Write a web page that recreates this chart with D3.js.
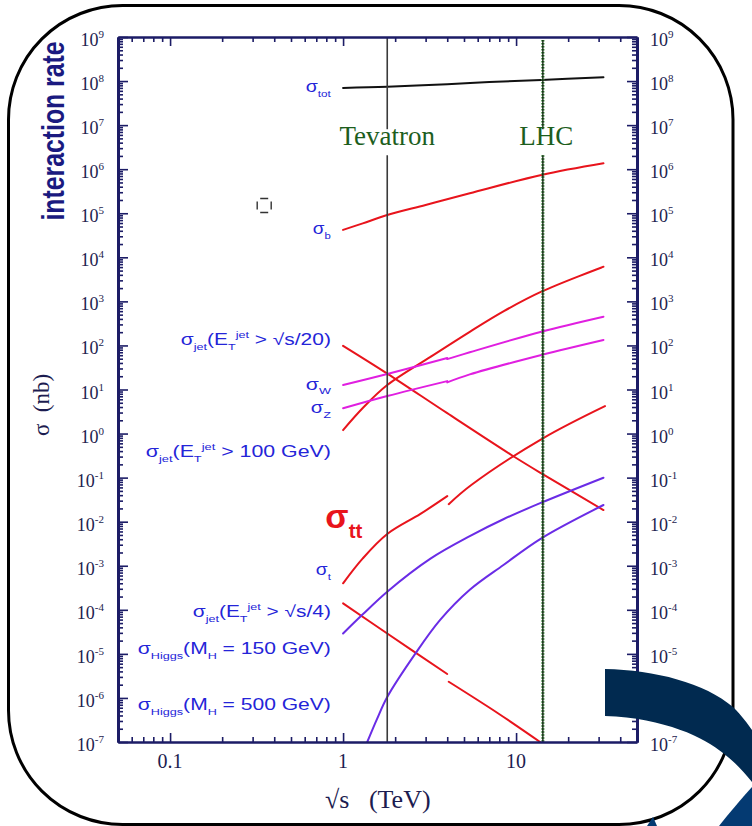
<!DOCTYPE html>
<html>
<head>
<meta charset="utf-8">
<script src="https://cdn.jsdelivr.net/npm/d3@7"></script>
<style>
  html, body { margin: 0; padding: 0; background: #fff; }
  svg { display: block; }
</style>
</head>
<body>
<svg id="chart" width="752" height="826"></svg>
<script>
// Cross sections σ (nb) versus collision energy √s (TeV).
// Below 4 TeV the curves are for p-pbar, above 4 TeV for p-p.
const sigmaTot       = [[1, 7.0e7], [1.8, 7.4e7], [4, 8.5e7], [7, 9.5e7], [14, 1.06e8], [32, 1.22e8]];
const sigmaB         = [[1, 4.2e4], [1.3, 5.9e4], [1.8, 9.1e4], [3, 1.54e5], [5.4, 2.84e5], [14, 7.4e5], [32, 1.36e6]];
const sigmaJet20     = [[1, 98], [1.8, 23], [4, 2.9], [9.6, 0.31], [14, 0.125], [32, 0.0184]];
const sigmaJet100    = [[1, 1.2], [1.3, 3.8], [1.8, 12.6], [3.2, 55], [5.4, 204], [8.5, 600], [14, 1660], [32, 6120]];
const sigmaW_ppbar   = [[1, 12.6], [1.8, 22.4], [4, 52]];
const sigmaW_pp      = [[4, 49], [5.4, 70], [14, 205], [32, 449]];
const sigmaZ_ppbar   = [[1, 3.74], [1.8, 7.1], [4, 15.5]];
const sigmaZ_pp      = [[4, 14.5], [5.4, 22], [14, 60.7], [32, 133]];
const sigmaTop_ppbar = [[1, 4.0e-4], [1.3, 1.47e-3], [1.8, 5.25e-3], [2.8, 0.015], [4, 0.038]];
const sigmaTop_pp    = [[4, 0.025], [5.4, 0.068], [14, 0.78], [32, 4.2]];
const sigmaJet4_ppbar = [[1, 1.4e-4], [1.8, 2.9e-5], [4, 3.5e-6]];
const sigmaJet4_pp    = [[4, 2.33e-6], [7.7, 4.5e-7], [13.5, 1.0e-7]];
const sigmaHiggs150  = [[1, 2.9e-5], [1.3, 7.9e-5], [1.8, 2.58e-4], [3.2, 1.45e-3], [5.4, 4.7e-3], [8.5, 0.0115], [14, 0.027], [32, 0.0995]];
const sigmaHiggs500  = [[1.38, 1e-7], [1.57, 3.3e-7], [1.8, 1.05e-6], [2.61, 1.0e-5], [3.64, 5.9e-5], [5.4, 2.85e-4], [8.45, 1.04e-3], [14, 4.19e-3], [32, 0.0239]];

// Collider energies (TeV)
const colliderNames  = ["Tevatron", "LHC"];
const colliderEnergy = [1.8, 14];

// Axis ticks
const yExponents   = d3.range(-7, 10);
const xTickValues  = [0.1, 1, 10];
const xTickLabels  = ["0.1", "1", "10"];

const RED = "#e8141c", MAGENTA = "#e01fe0", PURPLE = "#6a2ce6", BLACK = "#111", BLUE = "#2424d8";
const NAVY = "#1c1c66";

const svg = d3.select("#chart");
const x = d3.scaleLog().domain([0.05, 50]).range([118, 637]);
const y = d3.scaleLog().domain([1e-7, 1e9]).range([742, 37]);

// Rounded outer frame
svg.append("rect")
  .attr("x", 8.5).attr("y", 5.5).attr("width", 724.5).attr("height", 819)
  .attr("rx", 114).attr("ry", 114)
  .attr("fill", "#fff").attr("stroke", "#000").attr("stroke-width", 3);

// Clip curves to the plotting area
svg.append("clipPath").attr("id", "plotClip")
  .append("rect")
  .attr("x", x.range()[0]).attr("y", y.range()[1])
  .attr("width", x.range()[1] - x.range()[0])
  .attr("height", y.range()[0] - y.range()[1]);

const line = d3.line()
  .x(d => x(d[0]))
  .y(d => y(d[1]))
  .curve(d3.curveCatmullRom.alpha(0.5));

const curves = [
  { data: sigmaTot, color: BLACK },
  { data: sigmaB, color: RED },
  { data: sigmaJet20, color: RED },
  { data: sigmaJet100, color: RED },
  { data: sigmaW_ppbar, color: MAGENTA },
  { data: sigmaW_pp, color: MAGENTA },
  { data: sigmaZ_ppbar, color: MAGENTA },
  { data: sigmaZ_pp, color: MAGENTA },
  { data: sigmaTop_ppbar, color: RED },
  { data: sigmaTop_pp, color: RED, gap: true },
  { data: sigmaJet4_ppbar, color: RED },
  { data: sigmaJet4_pp, color: RED, gap: true },
  { data: sigmaHiggs150, color: PURPLE },
  { data: sigmaHiggs500, color: PURPLE }
];

const curveG = svg.append("g").attr("clip-path", "url(#plotClip)");
curveG.selectAll("path")
  .data(curves)
  .join("path")
  .attr("d", c => line(c.data))
  .attr("fill", "none")
  .attr("stroke", c => c.color)
  .attr("stroke-width", 2)
  .attr("stroke-linecap", "round")
  // p-p pieces that start after a visible break at the changeover
  .attr("transform", c => c.gap ? "translate(1.5,0)" : null);

// Collider lines and labels
const labelBase = y(3.5e6);
const collG = svg.append("g");
colliderEnergy.forEach((e, i) => {
  const xp = x(e);
  const segs = [[y.range()[1] + (i ? 3 : 0), labelBase - 16], [labelBase + 10, y.range()[0]]];
  segs.forEach(([a, b]) => {
    if (i === 0) {
      collG.append("line")
        .attr("x1", xp).attr("x2", xp).attr("y1", a).attr("y2", b)
        .attr("stroke", "#3a3a3a").attr("stroke-width", 1.6);
    } else {
      collG.append("line")
        .attr("x1", xp + 1.5).attr("x2", xp + 1.5).attr("y1", a).attr("y2", b)
        .attr("stroke", "#3c8a3c").attr("stroke-width", 3.2)
        .attr("stroke-dasharray", "1.5,1.5");
      collG.append("line")
        .attr("x1", xp + 1.5).attr("x2", xp + 1.5).attr("y1", a).attr("y2", b)
        .attr("stroke", "#0c200c").attr("stroke-width", 1.3);
    }
  });
  collG.append("text")
    .attr("x", xp + (i ? 5 : 0)).attr("y", labelBase)
    .attr("text-anchor", "middle")
    .attr("font-family", "'Liberation Serif', 'Times New Roman', serif")
    .attr("font-size", 27)
    .attr("fill", "#1d5e1d")
    .text(colliderNames[i]);
});

// Axes: ticks pointing inward on all four sides
const yMajor = yExponents.map(e => Math.pow(10, e));
const yMinor = [];
yExponents.slice(0, -1).forEach(e => { for (let m = 2; m <= 9; m++) yMinor.push(m * Math.pow(10, e)); });
const xMinor = [];
[0.01, 0.1, 1, 10].forEach(d => { for (let m = 2; m <= 9; m++) { const v = m * d; if (v > 0.05 && v < 50) xMinor.push(+v.toPrecision(3)); } });

function styleAxis(g, w) {
  g.select(".domain").attr("stroke", NAVY).attr("stroke-width", w);
  g.selectAll(".tick line").attr("stroke", NAVY).attr("stroke-width", 1.6);
  g.selectAll(".tick text").remove();
}
const [x0, x1] = x.range();
const [yb, yt] = y.range();

svg.append("g").attr("transform", `translate(${x0},0)`)
  .call(d3.axisLeft(y).tickValues(yMajor).tickSize(-10).tickSizeOuter(0).tickFormat(""))
  .call(g => styleAxis(g, 3));
svg.append("g").attr("transform", `translate(${x0},0)`)
  .call(d3.axisLeft(y).tickValues(yMinor).tickSize(-5).tickSizeOuter(0).tickFormat(""))
  .call(g => styleAxis(g, 3));
svg.append("g").attr("transform", `translate(${x1},0)`)
  .call(d3.axisRight(y).tickValues(yMajor).tickSize(-10).tickSizeOuter(0).tickFormat(""))
  .call(g => styleAxis(g, 3));
svg.append("g").attr("transform", `translate(${x1},0)`)
  .call(d3.axisRight(y).tickValues(yMinor).tickSize(-5).tickSizeOuter(0).tickFormat(""))
  .call(g => styleAxis(g, 3));
svg.append("g").attr("transform", `translate(0,${yb})`)
  .call(d3.axisBottom(x).tickValues(xTickValues).tickSize(-9).tickSizeOuter(0).tickFormat(""))
  .call(g => styleAxis(g, 2.2));
svg.append("g").attr("transform", `translate(0,${yb})`)
  .call(d3.axisBottom(x).tickValues(xMinor).tickSize(-5).tickSizeOuter(0).tickFormat(""))
  .call(g => styleAxis(g, 2.2));
svg.append("g").attr("transform", `translate(0,${yt})`)
  .call(d3.axisTop(x).tickValues(xTickValues).tickSize(-9).tickSizeOuter(0).tickFormat(""))
  .call(g => styleAxis(g, 2.2));
svg.append("g").attr("transform", `translate(0,${yt})`)
  .call(d3.axisTop(x).tickValues(xMinor).tickSize(-5).tickSizeOuter(0).tickFormat(""))
  .call(g => styleAxis(g, 2.2));

// Power-of-ten tick labels
const SERIF = "'Liberation Serif', 'Times New Roman', serif";
function powerLabel(xp, anchor, e) {
  const t = svg.append("text")
    .attr("x", xp).attr("y", y(Math.pow(10, e)) + 9)
    .attr("text-anchor", anchor)
    .attr("font-family", SERIF).attr("font-size", 18)
    .attr("fill", "#22224e");
  t.append("tspan").text("10");
  t.append("tspan").attr("dy", -8).attr("font-size", 11).text(String(e));
}
yExponents.forEach(e => { powerLabel(104, "end", e); powerLabel(650, "start", e); });

xTickValues.forEach((v, i) => {
  svg.append("text")
    .attr("x", x(v)).attr("y", 768)
    .attr("text-anchor", "middle")
    .attr("font-family", SERIF).attr("font-size", 20)
    .attr("fill", "#1c1c50")
    .text(xTickLabels[i]);
});

// Axis titles
svg.append("text")
  .attr("x", 325).attr("y", 808)
  .attr("font-family", SERIF).attr("font-size", 26).attr("fill", "#1c1c50")
  .attr("xml:space", "preserve")
  .text("√s   (TeV)");

svg.append("text")
  .attr("transform", "translate(49,405) rotate(-90)")
  .attr("text-anchor", "middle")
  .attr("font-family", SERIF).attr("font-size", 23).attr("fill", "#1c1c50")
  .attr("xml:space", "preserve")
  .text("σ  (nb)");

// Condensed bold title along the upper left axis
svg.append("text")
  .attr("transform", "translate(64,131) rotate(-90) scale(0.8,1)")
  .attr("text-anchor", "middle")
  .attr("font-family", "'Liberation Sans', Arial, sans-serif")
  .attr("font-weight", "bold").attr("font-size", 31)
  .attr("fill", "#1a1a80")
  .text("interaction rate");

// Curve labels with sub- and superscripts
const SANS = "'Liberation Sans', Arial, sans-serif";
function richText(parts, opt) {
  const t = svg.append("text")
    .attr("x", opt.x).attr("y", opt.y)
    .attr("text-anchor", opt.anchor || "end")
    .attr("font-family", SANS)
    .attr("font-size", opt.size)
    .attr("font-weight", opt.weight || "normal")
    .attr("fill", opt.color)
    .attr("xml:space", "preserve");
  if (opt.width) t.attr("textLength", opt.width).attr("lengthAdjust", "spacingAndGlyphs");
  let cur = 0;
  parts.forEach(([s, k]) => {
    const off = k === "sub" ? opt.size * 0.3 : k === "sup" ? -opt.size * 0.45 : 0;
    t.append("tspan")
      .attr("dy", off - cur)
      .attr("font-size", k ? opt.size * 0.6 : opt.size)
      .text(s);
    cur = off;
  });
  return t;
}

const labelX = x(0.85);
const curveLabels = [
  { parts: [["σ"], ["tot", "sub"]], at: 5.6e7, width: 25 },
  { parts: [["σ"], ["b", "sub"]], at: 3.4e4, width: 18 },
  { parts: [["σ"], ["jet", "sub"], ["(E"], ["T", "sub"], ["jet", "sup"], [" > √s/20)"]], at: 100, width: 150 },
  { parts: [["σ"], ["W", "sub"]], at: 10, width: 25 },
  { parts: [["σ"], ["Z", "sub"]], at: 2.9, width: 20 },
  { parts: [["σ"], ["jet", "sub"], ["(E"], ["T", "sub"], ["jet", "sup"], [" > 100 GeV)"]], at: 0.29, width: 185 },
  { parts: [["σ"], ["t", "sub"]], at: 6.2e-4, width: 15 },
  { parts: [["σ"], ["jet", "sub"], ["(E"], ["T", "sub"], ["jet", "sup"], [" > √s/4)"]], at: 6.9e-5, width: 138 },
  { parts: [["σ"], ["Higgs", "sub"], ["(M"], ["H", "sub"], [" = 150 GeV)"]], at: 1.0e-5, width: 193 },
  { parts: [["σ"], ["Higgs", "sub"], ["(M"], ["H", "sub"], [" = 500 GeV)"]], at: 5.3e-7, width: 193 }
];
curveLabels.forEach(l => richText(l.parts, { x: labelX, y: y(l.at), size: 16, color: BLUE, width: l.width }));

// σ_tt headline label
richText([["σ"], ["tt", "sub"]], { x: x(0.79), y: y(7.2e-3), anchor: "start", size: 34, weight: "bold", color: RED });

// Small dashed marker
const mk = { sqrtS: 0.35, sigma: 1.5e5 };
svg.append("rect")
  .attr("x", x(mk.sqrtS) - 7).attr("y", y(mk.sigma) - 7)
  .attr("width", 14).attr("height", 14)
  .attr("fill", "none").attr("stroke", "#333").attr("stroke-width", 1.4)
  .attr("stroke-dasharray", "8,6").attr("stroke-dashoffset", 11);

// Decorative navy swoosh in the lower right corner
const deco = svg.append("g");
deco.append("path")
  .attr("d", "M605,669 C655,670 705,683 733,707 C742,716 748,724 752,730 L752,782 C744,772 735,762 723,753 C705,738 665,718 605,716 Z")
  .attr("fill", "#012a50");
deco.append("path")
  .attr("d", "M719,826 C730,812 742,798 752,787 L752,826 Z")
  .attr("fill", "#043a72");
deco.append("path")
  .attr("d", "M647,826 L653,817 L657,826 Z")
  .attr("fill", "#043a72");
</script>
</body>
</html>
